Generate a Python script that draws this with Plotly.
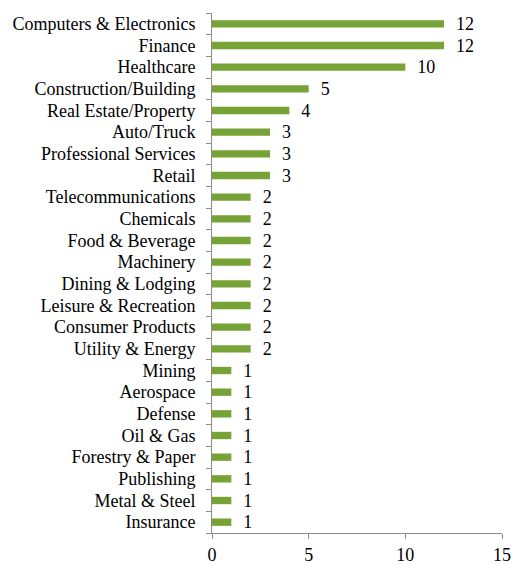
import plotly.graph_objects as go

industries = [
    "Computers & Electronics", "Finance", "Healthcare", "Construction/Building",
    "Real Estate/Property", "Auto/Truck", "Professional Services", "Retail",
    "Telecommunications", "Chemicals", "Food & Beverage", "Machinery",
    "Dining & Lodging", "Leisure & Recreation", "Consumer Products",
    "Utility & Energy", "Mining", "Aerospace", "Defense", "Oil & Gas",
    "Forestry & Paper", "Publishing", "Metal & Steel", "Insurance",
]
counts = [12, 12, 10, 5, 4, 3, 3, 3, 2, 2, 2, 2, 2, 2, 2, 2, 1, 1, 1, 1, 1, 1, 1, 1]
x_ticks = [0, 5, 10, 15]

FONT = "Liberation Serif"
AXIS = "#8c8c8c"

fig = go.Figure(
    go.Bar(
        x=counts,
        y=industries,
        orientation="h",
        marker=dict(color="#77a236", line=dict(width=0)),
        text=[f"\u2002{v}" for v in counts],
        textposition="outside",
        constraintext="none",
        textfont=dict(family=FONT, size=18, color="#000000"),
        cliponaxis=False,
    )
)

fig.update_layout(
    width=516,
    height=565,
    margin=dict(l=212, r=14, t=13, b=32),
    paper_bgcolor="white",
    plot_bgcolor="white",
    bargap=0.66,
    showlegend=False,
    font=dict(family=FONT, size=18, color="#000000"),
)

fig.update_xaxes(
    range=[0, 15],
    tickvals=x_ticks,
    ticktext=[str(t) for t in x_ticks],
    showgrid=False,
    zeroline=False,
    showline=True,
    linecolor=AXIS,
    linewidth=1,
    ticks="outside",
    ticklen=5,
    tickcolor=AXIS,
    tickfont=dict(family=FONT, size=18),
    automargin=False,
)

fig.update_yaxes(
    categoryorder="array",
    categoryarray=industries,
    tickmode="array",
    tickvals=industries,
    autorange="reversed",
    showgrid=False,
    showline=True,
    linecolor=AXIS,
    linewidth=1,
    ticks="outside",
    tickson="boundaries",
    ticklen=5,
    tickcolor=AXIS,
    ticklabelstandoff=12,
    tickfont=dict(family=FONT, size=18),
    automargin=False,
)

fig.write_html("out.html")
